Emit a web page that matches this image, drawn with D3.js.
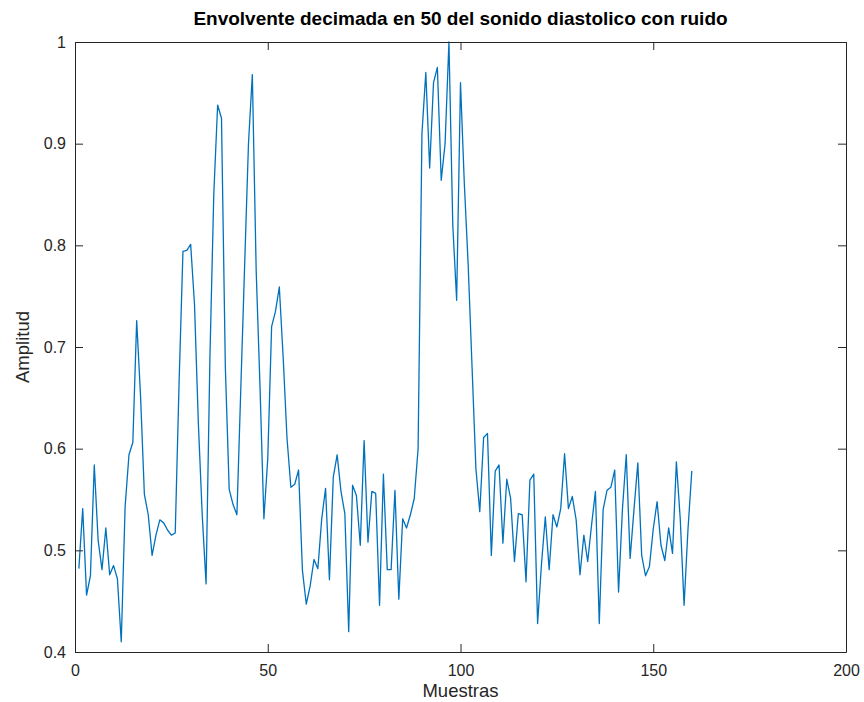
<!DOCTYPE html>
<html>
<head>
<meta charset="utf-8">
<script src="https://cdn.jsdelivr.net/npm/d3@7"></script>
<style>
  html, body { margin: 0; padding: 0; background: #fff; }
  svg { display: block; font-family: "Liberation Sans", Arial, sans-serif; }
</style>
</head>
<body>
<svg id="chart" width="864" height="702"></svg>
<script>
// Decimated envelope, one value per sample 1..160
const sampleValues = [
  0.482, 0.541, 0.456, 0.475, 0.584, 0.510, 0.481, 0.522, 0.476, 0.485,
  0.472, 0.410, 0.543, 0.594, 0.606, 0.726, 0.652, 0.555, 0.535, 0.495,
  0.515, 0.530, 0.527, 0.520, 0.515, 0.517, 0.665, 0.794, 0.795, 0.801,
  0.742, 0.625, 0.535, 0.467, 0.690, 0.850, 0.938, 0.925, 0.680, 0.560,
  0.545, 0.535, 0.658, 0.780, 0.900, 0.968, 0.775, 0.660, 0.531, 0.590,
  0.720, 0.735, 0.759, 0.690, 0.610, 0.562, 0.565, 0.579, 0.480, 0.447,
  0.465, 0.491, 0.482, 0.531, 0.561, 0.471, 0.572, 0.594, 0.558, 0.536,
  0.420, 0.564, 0.554, 0.505, 0.608, 0.508, 0.558, 0.556, 0.446, 0.575,
  0.481, 0.481, 0.559, 0.452, 0.531, 0.522, 0.535, 0.551, 0.600, 0.910,
  0.970, 0.876, 0.960, 0.975, 0.864, 0.900, 1.000, 0.820, 0.746, 0.960,
  0.860, 0.780, 0.680, 0.580, 0.538, 0.611, 0.615, 0.495, 0.578, 0.584,
  0.507, 0.570, 0.551, 0.489, 0.536, 0.535, 0.469, 0.569, 0.575, 0.428,
  0.486, 0.533, 0.481, 0.535, 0.523, 0.541, 0.595, 0.541, 0.553, 0.530,
  0.476, 0.515, 0.489, 0.525, 0.558, 0.428, 0.540, 0.559, 0.562, 0.579,
  0.459, 0.540, 0.594, 0.492, 0.540, 0.586, 0.495, 0.475, 0.484, 0.521,
  0.548, 0.505, 0.490, 0.522, 0.497, 0.587, 0.531, 0.446, 0.520, 0.578
];
const sampleIndex = sampleValues.map((_, i) => i + 1);

const xTicks = [0, 50, 100, 150, 200];
const yTicks = [0.4, 0.5, 0.6, 0.7, 0.8, 0.9, 1];
const xDomain = [0, 200];
const yDomain = [0.4, 1];

const titleText = "Envolvente decimada en 50 del sonido diastolico con ruido";
const xLabelText = "Muestras";
const yLabelText = "Amplitud";

const margin = { left: 75, right: 18, top: 42, bottom: 50 };
const W = 864, H = 702;
const plotW = W - margin.left - margin.right;
const plotH = H - margin.top - margin.bottom;

const svg = d3.select("#chart");
const g = svg.append("g").attr("transform", `translate(${margin.left},${margin.top})`);

const x = d3.scaleLinear().domain(xDomain).range([0, plotW]);
const y = d3.scaleLinear().domain(yDomain).range([plotH, 0]);

const axisColor = "#262626";
const tickLen = 8;
const tickFont = "16px";

// Data line
const line = d3.line()
  .x((d, i) => x(sampleIndex[i]))
  .y(d => y(d));

g.append("path")
  .datum(sampleValues)
  .attr("fill", "none")
  .attr("stroke", "#0072BD")
  .attr("stroke-width", 1.3)
  .attr("stroke-linejoin", "round")
  .attr("d", line);

// Axes: bottom and left with labels, top and right mirrored ticks only
const fmtY = d => (d === 1 ? "1" : d3.format(".1f")(d));

const xAxis = g.append("g")
  .attr("transform", `translate(0,${plotH})`)
  .call(d3.axisBottom(x).tickValues(xTicks).tickSizeInner(-tickLen).tickSizeOuter(0).tickPadding(13));
const yAxis = g.append("g")
  .call(d3.axisLeft(y).tickValues(yTicks).tickFormat(fmtY).tickSizeInner(-tickLen).tickSizeOuter(0).tickPadding(9));
const xTop = g.append("g")
  .call(d3.axisTop(x).tickValues(xTicks).tickSizeInner(-tickLen).tickSizeOuter(0).tickFormat(""));
const yRight = g.append("g")
  .attr("transform", `translate(${plotW},0)`)
  .call(d3.axisRight(y).tickValues(yTicks).tickSizeInner(-tickLen).tickSizeOuter(0).tickFormat(""));

[xAxis, yAxis, xTop, yRight].forEach(a => {
  a.select(".domain").attr("stroke", axisColor).attr("stroke-width", 1);
  a.selectAll(".tick line").attr("stroke", axisColor).attr("stroke-width", 1);
  a.selectAll(".tick text")
    .attr("fill", axisColor)
    .style("font-size", tickFont)
    .style("font-family", "'Liberation Sans', Arial, sans-serif");
});

// Title and axis labels
svg.append("text")
  .attr("x", margin.left + plotW / 2)
  .attr("y", 25)
  .attr("text-anchor", "middle")
  .attr("font-weight", "bold")
  .attr("font-size", 19)
  .attr("fill", "#000")
  .text(titleText);

svg.append("text")
  .attr("x", margin.left + plotW / 2)
  .attr("y", 697)
  .attr("text-anchor", "middle")
  .attr("font-size", 18.5)
  .attr("fill", axisColor)
  .text(xLabelText);

svg.append("text")
  .attr("transform", `translate(28.5,${margin.top + plotH / 2}) rotate(-90)`)
  .attr("text-anchor", "middle")
  .attr("font-size", 18.5)
  .attr("fill", axisColor)
  .text(yLabelText);
</script>
</body>
</html>
